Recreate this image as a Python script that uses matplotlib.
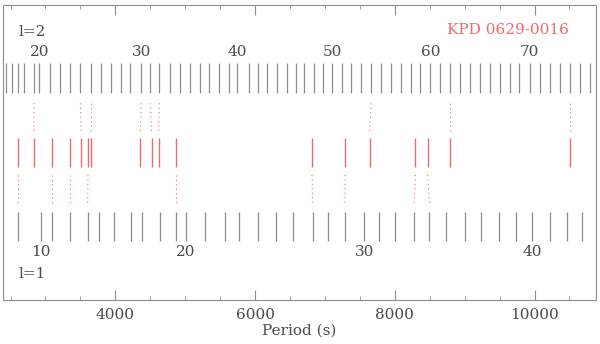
import numpy as np
import matplotlib
matplotlib.use("Agg")
import matplotlib.pyplot as plt
from matplotlib.ticker import MultipleLocator

# model period ladders (s)
l2_first_n = 15
l2_periods = [2440, 2526, 2605, 2698, 2831, 2912, 3070, 3213, 3349, 3499,
              3649, 3793, 3938, 4082, 4215, 4372, 4501, 4630, 4787, 4930,
              5073, 5206, 5335, 5478, 5621, 5742, 5908, 6042, 6171, 6314,
              6457, 6590, 6705, 6838, 6972, 7101, 7244, 7373, 7516, 7663,
              7802, 7945, 8088, 8231, 8365, 8508, 8651, 8794, 8937, 9080,
              9223, 9366, 9499, 9642, 9785, 9929, 10072, 10215, 10358, 10511,
              10654, 10787]
l1_first_n = 9
l1_periods = [2602, 2937, 3094, 3356, 3604, 3771, 3986, 4219, 4379, 4634,
              4870, 5013, 5288, 5574, 5764, 6042, 6304, 6543, 6826, 7038,
              7287, 7563, 7778, 8007, 8279, 8496, 8732, 8998, 9228, 9485,
              9728, 9964, 10215, 10464, 10679]
l2_labels = [20, 30, 40, 50, 60, 70]
l1_labels = [10, 20, 30, 40]

# observed periods and the ladder mode each is identified with
l2_obs = [2837, 3511, 3649, 4358, 4518, 4620, 7638, 8794, 10511]
l2_n = [19, 24, 25, 30, 31, 32, 54, 62, 74]
l1_obs = [2602, 3094, 3356, 3609, 4870, 6815, 7291, 8293, 8469]
l1_n = [9, 11, 12, 13, 19, 27, 29, 33, 34]

GRAY = "#8e8e8e"
RED = "#ec6a6a"
TXT = "#4a4a4a"
plt.rcParams["font.family"] = ["DejaVu Serif"]
FS = 11

fig = plt.figure(figsize=(6, 3.44), dpi=100)
ax = fig.add_axes([3 / 600, 44 / 344, 593 / 600, 295 / 344])
ax.set_xlim(2392, 10880)
ax.set_ylim(0, 1)

# l=2 ladder
ax.vlines(l2_periods, 0.702, 0.803, color=GRAY, lw=0.9)
for k in l2_labels:
    ax.text(l2_periods[k - l2_first_n], 0.841, str(k), ha="center", va="center",
            fontsize=FS, color=TXT)
ax.text(2610, 0.908, "l=2", ha="left", va="center", fontsize=FS, color=TXT)

# l=1 ladder
ax.vlines(l1_periods, 0.200, 0.298, color=GRAY, lw=0.9)
for k in l1_labels:
    ax.text(l1_periods[k - l1_first_n], 0.163, str(k), ha="center", va="center",
            fontsize=FS, color=TXT)
ax.text(2610, 0.088, "l=1", ha="left", va="center", fontsize=FS, color=TXT)

# observed periods, joined to their ladder modes
ax.vlines(l2_obs + l1_obs, 0.451, 0.549, color=RED, lw=1)
for p, n in zip(l2_obs, l2_n):
    ax.plot([p, l2_periods[n - l2_first_n]], [0.573, 0.671], color=RED, lw=0.8,
            linestyle=(0, (1, 3)))
for p, n in zip(l1_obs, l1_n):
    ax.plot([p, l1_periods[n - l1_first_n]], [0.424, 0.329], color=RED, lw=0.8,
            linestyle=(0, (1, 3)))

ax.text(10497, 0.915, "KPD 0629-0016", ha="right", va="center", fontsize=FS,
        color=RED)

ax.xaxis.set_major_locator(MultipleLocator(2000))
ax.xaxis.set_minor_locator(MultipleLocator(500))
ax.tick_params(axis="x", which="both", direction="in", top=True, colors=GRAY,
               labelcolor=TXT, labelsize=FS, pad=6)
ax.tick_params(axis="x", which="major", length=7)
ax.tick_params(axis="x", which="minor", length=3)
ax.set_yticks([])
for s in ax.spines.values():
    s.set_color(GRAY)
ax.set_xlabel("Period (s)", fontsize=FS, color=TXT, labelpad=1)

fig.savefig("out.png", dpi=100)
